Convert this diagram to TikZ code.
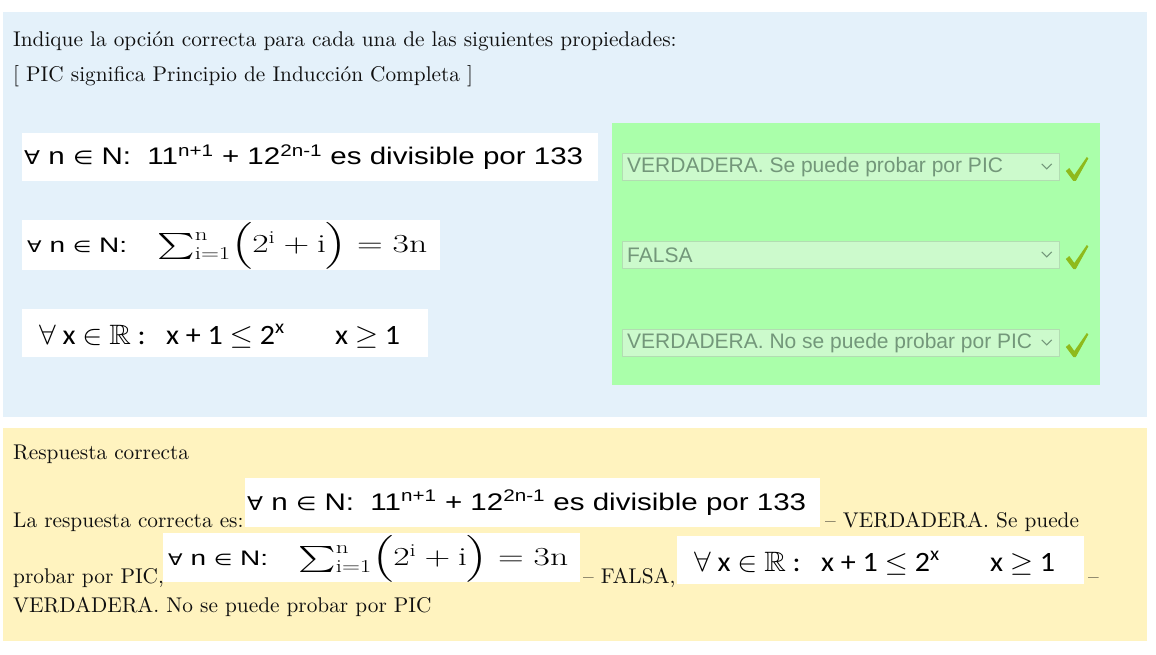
\RequirePackage{fix-cm}
\documentclass[tikz,border=0pt]{standalone}
\usepackage{fontspec}
\IfFileExists{amssymb.sty}{\usepackage{amssymb}\newcommand\RR{$\mathbb{R}$}}{\newcommand\RR{{\dejaf ℝ}}}
\usetikzlibrary{calc}
\newfontfamily\arialf{Liberation Sans}
\newfontfamily\calf{Carlito}
\newfontfamily\dejaf{DejaVu Sans}
\newfontfamily\bodyf{lmroman10-regular.otf}
\definecolor{bgblue}{HTML}{E4F1FA}
\definecolor{bgyel}{HTML}{FFF3BF}
\definecolor{bggreen}{HTML}{AAFFAA}
\definecolor{ddfill}{HTML}{CCFACC}
\definecolor{ddline}{HTML}{B2DDB2}
\definecolor{ddtext}{HTML}{73977A}
\definecolor{chkcol}{HTML}{8FBA1C}
\definecolor{txt}{HTML}{101010}
\newcommand\symf{\dejaf\fontsize{19}{22}\selectfont}
\newcommand\formA{\resizebox{559pt}{\height}{\arialf\fontsize{24}{28}\selectfont{\symf ∀} n {\symf ∈} N:\ \ 11\textsuperscript{n+1} + 12\textsuperscript{2n-1} es divisible por 133}}
\newcommand\formB{\rlap{\resizebox{100pt}{\height}{\arialf\fontsize{21}{25}\selectfont{\dejaf\fontsize{16}{19}\selectfont ∀} n {\dejaf\fontsize{16}{19}\selectfont ∈} N:}}\hspace*{130pt}\resizebox{270pt}{\height}{\fontsize{26}{30}\selectfont$\textstyle\sum_{\mathrm{i}=1}^{\mathrm{n}}\!\left(\rule[-12pt]{0pt}{32pt}2^{\mathrm{i}}+\mathrm{i}\right)=3\mathrm{n}$}}
\newcommand\formC{\resizebox{361pt}{\height}{\calf\fontsize{28}{32}\selectfont$\forall$ x $\in$ \RR\ :\ \ \ x + 1 $\leq$ 2\textsuperscript{x}\quad\ \ \ x $\geq$ 1}}
\tikzset{
  wbox/.style={fill=white, draw=none, inner sep=0, anchor=north west},
  body/.style={anchor=base west, inner sep=0, text=txt, font=\bodyf\fontsize{21.3}{25}\selectfont},
  ftext/.style={anchor=base west, inner sep=0},
  ddbox/.style={fill=ddfill, draw=ddline, line width=0.8, inner sep=0, anchor=north west, minimum width=437, minimum height=27},
  ddlabel/.style={anchor=west, inner sep=0, text=ddtext, font=\arialf\fontsize{21}{25}\selectfont},
  chev/.style={draw=ddtext, line width=1.1},
  chk/.style={fill=chkcol, draw=none}
}
\newcommand\placeform[5]{%
  \node[wbox, minimum width=#4, minimum height=#5] (#1) at (#2,#3) {};}
\newcommand\ddown[3]{%
  \node[ddbox] (#1) at (622,#2) {};
  \node[ddlabel] (#1t) at ($(#1.west)+(5,0.5)$) {#3};
  \coordinate (#1c) at ($(#1.east)+(-13,-0.5)$);
  \draw[chev] ($(#1c)+(-5,-2.5)$) -- ($(#1c)+(0,2.5)$) -- ($(#1c)+(5,-2.5)$);
  \fill[chk] ($(#1.north east)+(6,18)$) -- ++(3.5,-3) -- ++(5,7) -- ++(12.5,-18) -- ++(1.5,1.5) -- ++(-12.5,22.5) -- ++(-2.5,0) -- cycle;
}
\begin{document}
\begin{tikzpicture}[x=1pt,y=-1pt]
\useasboundingbox (0,0) rectangle (1156,655);
\fill[white] (0,0) rectangle (1156,655);
% top panel
\node[fill=bgblue, inner sep=0, anchor=north west, minimum width=1144, minimum height=405] (top) at (3,12) {};
\node[body] (q1) at (13,47) {Indique la opción correcta para cada una de las siguientes propiedades:};
\node[body] (q2) at (13,82) {[ PIC significa Principio de Inducción Completa ]};
% formula boxes
\placeform{fa}{22}{133}{576}{48}
\node[ftext] (fat) at ($(fa.north west)+(2,32)$) {\formA};
\placeform{fb}{22}{220}{418}{50}
\node[ftext] (fbt) at ($(fb.north west)+(5,32.5)$) {\formB};
\placeform{fc}{22}{309}{406}{48}
\node[ftext] (fct) at ($(fc.north west)+(17,35)$) {\formC};
% green answer area
\node[fill=bggreen, inner sep=0, anchor=north west, minimum width=488, minimum height=262] (green) at (612,123) {};
\ddown{d1}{153}{VERDADERA. Se puede probar por PIC}
\ddown{d2}{241}{FALSA}
\ddown{d3}{329}{VERDADERA. No se puede probar por PIC}
% bottom panel
\node[fill=bgyel, inner sep=0, anchor=north west, minimum width=1144, minimum height=213] (bot) at (3,428) {};
\node[body] (r1) at (13,459) {Respuesta correcta};
\node[body] (r2) at (13,527) {La respuesta correcta es:};
\placeform{ga}{245}{478}{575}{49}
\node[ftext] (gat) at ($(ga.north west)+(2,32)$) {\formA};
\node[body] (r3) at (825,527) {– VERDADERA. Se puede};
\node[body] (r4) at (13,583) {probar por PIC,};
\placeform{gb}{163}{533}{417}{49}
\node[ftext] (gbt) at ($(gb.north west)+(5,32.5)$) {\formB};
\node[body] (r5) at (583,583) {– FALSA,};
\placeform{gc}{677}{536}{407}{48}
\node[ftext] (gct) at ($(gc.north west)+(17,35)$) {\formC};
\node[body] (r6) at (1088,583) {–};
\node[body] (r7) at (13,612) {VERDADERA. No se puede probar por PIC};
\end{tikzpicture}
\end{document}
